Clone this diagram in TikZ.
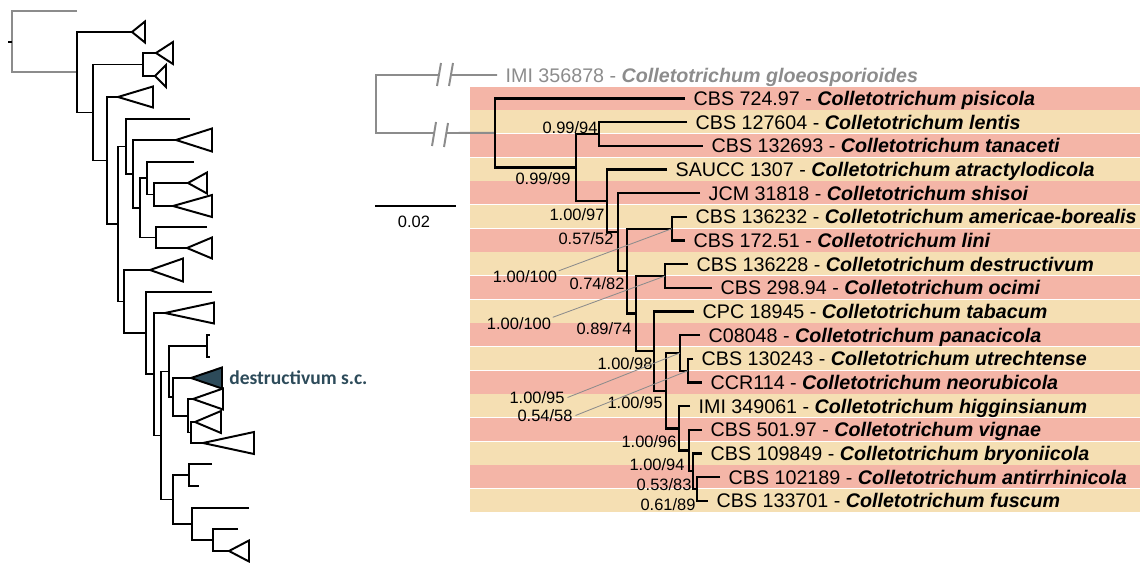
\documentclass[tikz,border=0pt]{standalone}
\usepackage{fontspec}
\setmainfont{Liberation Sans}
\newfontfamily\cladefont{Carlito}
\usepackage{tikz}
\usetikzlibrary{positioning, calc}
\usepackage{xcolor}
\definecolor{stripepink}{HTML}{F4B5A7}
\definecolor{stripesand}{HTML}{F5DFB3}
\definecolor{outgray}{HTML}{8C8C8C}
\definecolor{cladeslate}{HTML}{2D4B5A}
\tikzset{
  branch/.style={line width=1.6pt, black},
  lbranch/.style={line width=1.4pt, black},
  outbranch/.style={line width=1.4pt, outgray},
  clade/.style={draw=black, line width=1.4pt},
  leader/.style={line width=0.6pt, outgray},
  taxon/.style={anchor=west, inner sep=0pt, text height=10pt, text depth=0pt,
    font=\fontsize{14}{16}\selectfont},
  support/.style={inner sep=0pt, text height=8.4pt, text depth=0pt,
    font=\fontsize{11.7}{14}\selectfont},
}

\begin{document}
\begin{tikzpicture}[x=0.025cm, y=-0.025cm, node distance=2.1mm]
\useasboundingbox (0,0) rectangle (1142,563);

% Stripes behind the taxa
\foreach \i in {0,...,17}{
  \ifodd\i \def\stripecol{stripesand}\else\def\stripecol{stripepink}\fi
  \fill[\stripecol] (470,{86.7+23.67*\i}) rectangle (1140,{86.7+23.67*\i+22.9});
}

% Overview tree (left)
\coordinate (g0) at (12,41.6);
\coordinate (gl) at (77,11);
\coordinate (q1) at (77,72.25);
\coordinate (c1) at (132,32);
\coordinate (q2) at (93,112.5);
\coordinate (q3) at (143,64.5);
\coordinate (c2) at (156,53);
\coordinate (c3) at (155,76);
\coordinate (q4) at (107,160.5);
\coordinate (c4) at (118,97);
\coordinate (q5) at (118,224);
\coordinate (q6) at (126,146.5);
\coordinate (s1) at (190,119);
\coordinate (q8) at (133,174);
\coordinate (c5) at (176,140);
\coordinate (q9) at (140,208);
\coordinate (q10) at (147,178.25);
\coordinate (s2) at (194,162);
\coordinate (q12) at (154,194.5);
\coordinate (c6) at (188,183);
\coordinate (c7) at (173,206);
\coordinate (q11) at (156,237.5);
\coordinate (s3) at (207,227);
\coordinate (c8) at (187,248);
\coordinate (q7) at (124,301.5);
\coordinate (c9) at (150,270);
\coordinate (q13) at (146,333);
\coordinate (s4) at (212,292);
\coordinate (q14) at (154,374.25);
\coordinate (c10) at (165,313);
\coordinate (q15) at (161,435.5);
\coordinate (q16) at (169,371.5);
\coordinate (c11) at (207,346);
\coordinate (q18) at (173,397);
\coordinate (c12) at (191,378);
\coordinate (q19) at (188,415.85);
\coordinate (c13) at (193,399);
\coordinate (q20) at (191,432.5);
\coordinate (c14) at (195,422);
\coordinate (c15) at (203,443);
\coordinate (q17) at (173,499.5);
\coordinate (q21) at (189,475);
\coordinate (s5) at (212,464);
\coordinate (s6) at (199,486);
\coordinate (q22) at (192,524);
\coordinate (s7) at (249,508);
\coordinate (q23) at (213,540);
\coordinate (s8) at (238,529);
\coordinate (c16) at (229,551);

\draw[outbranch] (gl) -| (g0) |- (q1);
\draw[lbranch] (g0) -- ++(-4,0);
\draw[lbranch] (c1) -| (q1) |- (q2);
\draw[lbranch] (q3) -| (q2) |- (q4);
\draw[lbranch] (c2) -| (q3) |- (c3);
\draw[lbranch] (c4) -| (q4) |- (q5);
\draw[lbranch] (q6) -| (q5) |- (q7);
\draw[lbranch] (s1) -| (q6) |- (q8);
\draw[lbranch] (c5) -| (q8) |- (q9);
\draw[lbranch] (q10) -| (q9) |- (q11);
\draw[lbranch] (s2) -| (q10) |- (q12);
\draw[lbranch] (c6) -| (q12) |- (c7);
\draw[lbranch] (s3) -| (q11) |- (c8);
\draw[lbranch] (c9) -| (q7) |- (q13);
\draw[lbranch] (s4) -| (q13) |- (q14);
\draw[lbranch] (c10) -| (q14) |- (q15);
\draw[lbranch] (q16) -| (q15) |- (q17);
\draw[lbranch] (c11) -| (q16) |- (q18);
\draw[lbranch] (c12) -| (q18) |- (q19);
\draw[lbranch] (c13) -| (q19) |- (q20);
\draw[lbranch] (c14) -| (q20) |- (c15);
\draw[lbranch] (q21) -| (q17) |- (q22);
\draw[lbranch] (s5) -| (q21) |- (s6);
\draw[lbranch] (s7) -| (q22) |- (q23);
\draw[lbranch] (s8) -| (q23) |- (c16);

% Collapsed clades
\foreach \c/\w/\h in {c1/13/10.5, c2/17/11, c3/11/11, c4/35/10.5, c5/36/11.5,
    c6/19/10.5, c7/39/11, c8/25/10.5, c9/33/11.5, c10/49/10.5,
    c13/30/10.5, c14/26/11, c15/51/11, c16/20/10.5}
  \draw[clade] (\c) -- ++(\w,-\h) -- ++(0,2*\h) -- cycle;
\draw[clade] (c11) ++(2.5,-11) -- ++(-2.5,0) -- ++(0,22) -- ++(2.5,0);
\draw[clade, fill=cladeslate] (c12) -- ++(31,-10.5) -- ++(0,21) -- cycle;
\node[anchor=base west, inner sep=0pt, text=cladeslate,
  font=\cladefont\bfseries\fontsize{13.9}{16}\selectfont] (dsc) at (229,384) {destructivum s.c.};

% Outgroup
\coordinate (og) at (497,75);
\coordinate (O0) at (376,104);

% Tips
\coordinate (t0) at (685,98.5);
\coordinate (t1) at (687,122.2);
\coordinate (t2) at (703,145.8);
\coordinate (t3) at (667,169.5);
\coordinate (t4) at (700,193.2);
\coordinate (t5) at (687,216.8);
\coordinate (t6) at (685,240.5);
\coordinate (t7) at (688,264.2);
\coordinate (t8) at (712,287.9);
\coordinate (t9) at (694,311.5);
\coordinate (t10) at (700,335.2);
\coordinate (t11) at (693,358.9);
\coordinate (t12) at (702,382.5);
\coordinate (t13) at (690,406.2);
\coordinate (t14) at (702,429.9);
\coordinate (t15) at (702,453.5);
\coordinate (t16) at (720,477.2);
\coordinate (t17) at (708,500.9);

% Internal nodes
\coordinate (R) at (495,132.95);
\coordinate (B) at (576,167.4);
\coordinate (A) at (599,134);
\coordinate (C) at (607,200.8);
\coordinate (D) at (618,232.15);
\coordinate (F) at (627,271.1);
\coordinate (E) at (672,228.65);
\coordinate (G) at (636,313.6);
\coordinate (H) at (665,276.05);
\coordinate (I) at (654,351.1);
\coordinate (J) at (666,390.7);
\coordinate (K) at (680,352.95);
\coordinate (L) at (688,370.7);
\coordinate (M) at (679,428.4);
\coordinate (N) at (689,450.6);
\coordinate (O) at (693,471.3);
\coordinate (P) at (697,489.05);

% Broken outgroup branches
\draw[outbranch] (og) -- (452,75) (438,75) -| (O0) |- (434,133) (447,133) -- (R);
\draw[outbranch] (437,86) -- (441,63) (449,86) -- (453,63)
  (432,146) -- (436,122) (444,147) -- (448,123);

% Branches
\draw[branch] (t0) -| (R) |- (B);
\draw[branch] (A) -| (B) |- (C);
\draw[branch] (t1) -| (A) |- (t2);
\draw[branch] (t3) -| (C) |- (D);
\draw[branch] (t4) -| (D) |- (F);
\draw[branch] (E) -| (F) |- (G);
\draw[branch] (t5) -| (E) |- (t6);
\draw[branch] (H) -| (G) |- (I);
\draw[branch] (t7) -| (H) |- (t8);
\draw[branch] (t9) -| (I) |- (J);
\draw[branch] (K) -| (J) |- (M);
\draw[branch] (t10) -| (K) |- (L);
\draw[branch] (t11) -| (L) |- (t12);
\draw[branch] (t13) -| (M) |- (N);
\draw[branch] (t14) -| (N) |- (O);
\draw[branch] (t15) -| (O) |- (P);
\draw[branch] (t16) -| (P) |- (t17);

% Taxa
\node[taxon, text=outgray, right=of og] (n18) {IMI 356878 - \textbf{\textit{Colletotrichum gloeosporioides}}};
\node[taxon, right=of t0] (n0) {CBS 724.97 - \textbf{\textit{Colletotrichum pisicola}}};
\node[taxon, right=of t1] (n1) {CBS 127604 - \textbf{\textit{Colletotrichum lentis}}};
\node[taxon, right=of t2] (n2) {CBS 132693 - \textbf{\textit{Colletotrichum tanaceti}}};
\node[taxon, right=of t3] (n3) {SAUCC 1307 - \textbf{\textit{Colletotrichum atractylodicola}}};
\node[taxon, right=of t4] (n4) {JCM 31818 - \textbf{\textit{Colletotrichum shisoi}}};
\node[taxon, right=of t5] (n5) {CBS 136232 - \textbf{\textit{Colletotrichum americae-borealis}}};
\node[taxon, right=of t6] (n6) {CBS 172.51 - \textbf{\textit{Colletotrichum lini}}};
\node[taxon, right=of t7] (n7) {CBS 136228 - \textbf{\textit{Colletotrichum destructivum}}};
\node[taxon, right=of t8] (n8) {CBS 298.94 - \textbf{\textit{Colletotrichum ocimi}}};
\node[taxon, right=of t9] (n9) {CPC 18945 - \textbf{\textit{Colletotrichum tabacum}}};
\node[taxon, right=of t10] (n10) {C08048 - \textbf{\textit{Colletotrichum panacicola}}};
\node[taxon, right=of t11] (n11) {CBS 130243 - \textbf{\textit{Colletotrichum utrechtense}}};
\node[taxon, right=of t12] (n12) {CCR114 - \textbf{\textit{Colletotrichum neorubicola}}};
\node[taxon, right=of t13] (n13) {IMI 349061 - \textbf{\textit{Colletotrichum higginsianum}}};
\node[taxon, right=of t14] (n14) {CBS 501.97 - \textbf{\textit{Colletotrichum vignae}}};
\node[taxon, right=of t15] (n15) {CBS 109849 - \textbf{\textit{Colletotrichum bryoniicola}}};
\node[taxon, right=of t16] (n16) {CBS 102189 - \textbf{\textit{Colletotrichum antirrhinicola}}};
\node[taxon, right=of t17] (n17) {CBS 133701 - \textbf{\textit{Colletotrichum fuscum}}};

% Support values
\node[support] (sA) at (570,127.5) {0.99/94};
\node[support] (sB) at (543,179) {0.99/99};
\node[support] (sC) at (577,214.5) {1.00/97};
\node[support] (sD) at (586,239) {0.57/52};
\node[support] (sE) at (525,277) {1.00/100};
\node[support] (sF) at (597,283.5) {0.74/82};
\node[support] (sH) at (519,323.5) {1.00/100};
\node[support] (sG) at (604,328.5) {0.89/74};
\node[support] (sI) at (625,363.5) {1.00/98};
\node[support] (sK) at (537,397.5) {1.00/95};
\node[support] (sJ) at (635,402.5) {1.00/95};
\node[support] (sL) at (545,415.5) {0.54/58};
\node[support] (sM) at (649,441.5) {1.00/96};
\node[support] (sN) at (657,465) {1.00/94};
\node[support] (sO) at (664,485) {0.53/83};
\node[support] (sP) at (668,505) {0.61/89};

% Leaders
\draw[leader] ([xshift=1pt]sE.north east) -- (E);
\draw[leader] ([xshift=1pt]sH.north east) -- (H);
\draw[leader] ([xshift=2pt]sK.east) -- (K);
\draw[leader] ([xshift=2pt]sL.east) -- (L);

% Scale bar
\coordinate (sbL) at (375,206);
\coordinate (sbR) at (456,206);
\draw[line width=2pt] (sbL) -- (sbR);
\node[support] (sbl) at (414,221.5) {0.02};

\end{tikzpicture}
\end{document}
